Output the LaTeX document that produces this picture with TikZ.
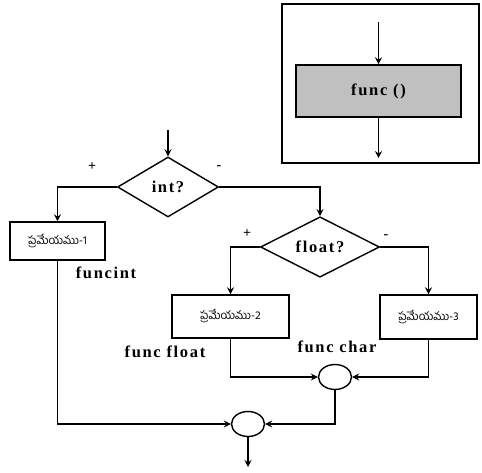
\documentclass[tikz,border=0pt]{standalone}
\usepackage{fontspec}
\setmainfont{Liberation Serif}
\newfontfamily\tagfont[LetterSpace=10]{Liberation Serif Bold}
\newfontfamily\telugufont[Script=Telugu]{Hind Guntur}
\usetikzlibrary{shapes.geometric,arrows.meta}
\definecolor{procfill}{HTML}{C0C0C0}
\newcommand{\lbl}{\tagfont\fontsize{16.5}{18}\selectfont}

\begin{document}
\begin{tikzpicture}[x=1pt, y=-1pt,
    every node/.style={text=black},
    flow/.style={line width=1.5pt},
    arr/.style={flow, -{Stealth[length=7pt, width=7pt, inset=2.5pt]}},
    proc/.style={draw, line width=1.5pt, minimum width=95pt, minimum height=38pt,
                 inner sep=0pt, font=\telugufont\fontsize{11.5}{13}\selectfont},
    test/.style={draw, diamond, line width=1.4pt, inner sep=0pt, font=\lbl},
    merge/.style={draw, ellipse, line width=1.4pt, minimum width=33pt, minimum height=25pt,
                 inner sep=0pt},
    tag/.style={font=\lbl},
    sign/.style={font=\tagfont\fontsize{14}{15}\selectfont},
  ]
  \useasboundingbox (0,0) rectangle (482,473);

  % the legend box, top right
  \node[draw, line width=1.5pt, minimum width=197pt, minimum height=159pt, inner sep=0pt]
        (legend) at (380.5,83.5) {};
  \node[draw, fill=procfill, line width=1.5pt, minimum width=165pt, minimum height=52pt,
        inner sep=0pt, font=\lbl] (func) at (378.5,91) {func ()};
  \coordinate (funcin)  at (378.5,22);
  \coordinate (funcout) at (378.5,158);
  \draw[arr] (funcin) -- (func);
  \draw[arr] (func) -- (funcout);

  % first test
  \coordinate (start) at (168,130);
  \node[test, minimum width=101pt, minimum height=60pt] (int) at (168,187) {int?\\[6pt]};
  \draw[arr] (start) -- (int.north);
  \node[sign] (plusa)  at (92,167)  {+};
  \node[sign] (minusa) at (219,168) {-};

  \node[proc] (proca) at (57.5,241) {ప్రమేయము-1};
  \draw[arr] (int.west) -| (proca.north);
  \node[tag] (tagint) at (106,273) {funcint};

  % second test
  \node[test, minimum width=119pt, minimum height=60pt] (float) at (320,247) {float?\\[6pt]};
  \draw[arr] (int.east) -| (float.north);
  \node[sign] (plusb)  at (247,234) {+};
  \node[sign] (minusb) at (386,237) {-};

  \node[proc, minimum width=117pt, minimum height=43pt] (procb) at (230.5,316.5) {ప్రమేయము-2};
  \node[proc, minimum width=97pt, minimum height=44pt]  (procc) at (428.5,317) {ప్రమేయము-3};
  \draw[arr] (float.west) -| (procb.north);
  \draw[arr] (float.east) -| (procc.north);
  \node[tag] (tagfloat) at (165,352) {func float};
  \node[tag] (tagchar)  at (337,347) {func char};

  % the merges
  \node[merge] (mergea) at (335,377) {};
  \node[merge] (mergeb) at (248,424) {};
  \draw[arr] (procb.south) |- (mergea.west);
  \draw[arr] (procc.south) |- (mergea.east);
  \draw[arr] (mergea.south) |- (mergeb.east);
  \draw[arr] (proca.south) |- (mergeb.west);
  \coordinate (stop) at (248,467);
  \draw[arr] (mergeb.south) -- (stop);
\end{tikzpicture}
\end{document}
